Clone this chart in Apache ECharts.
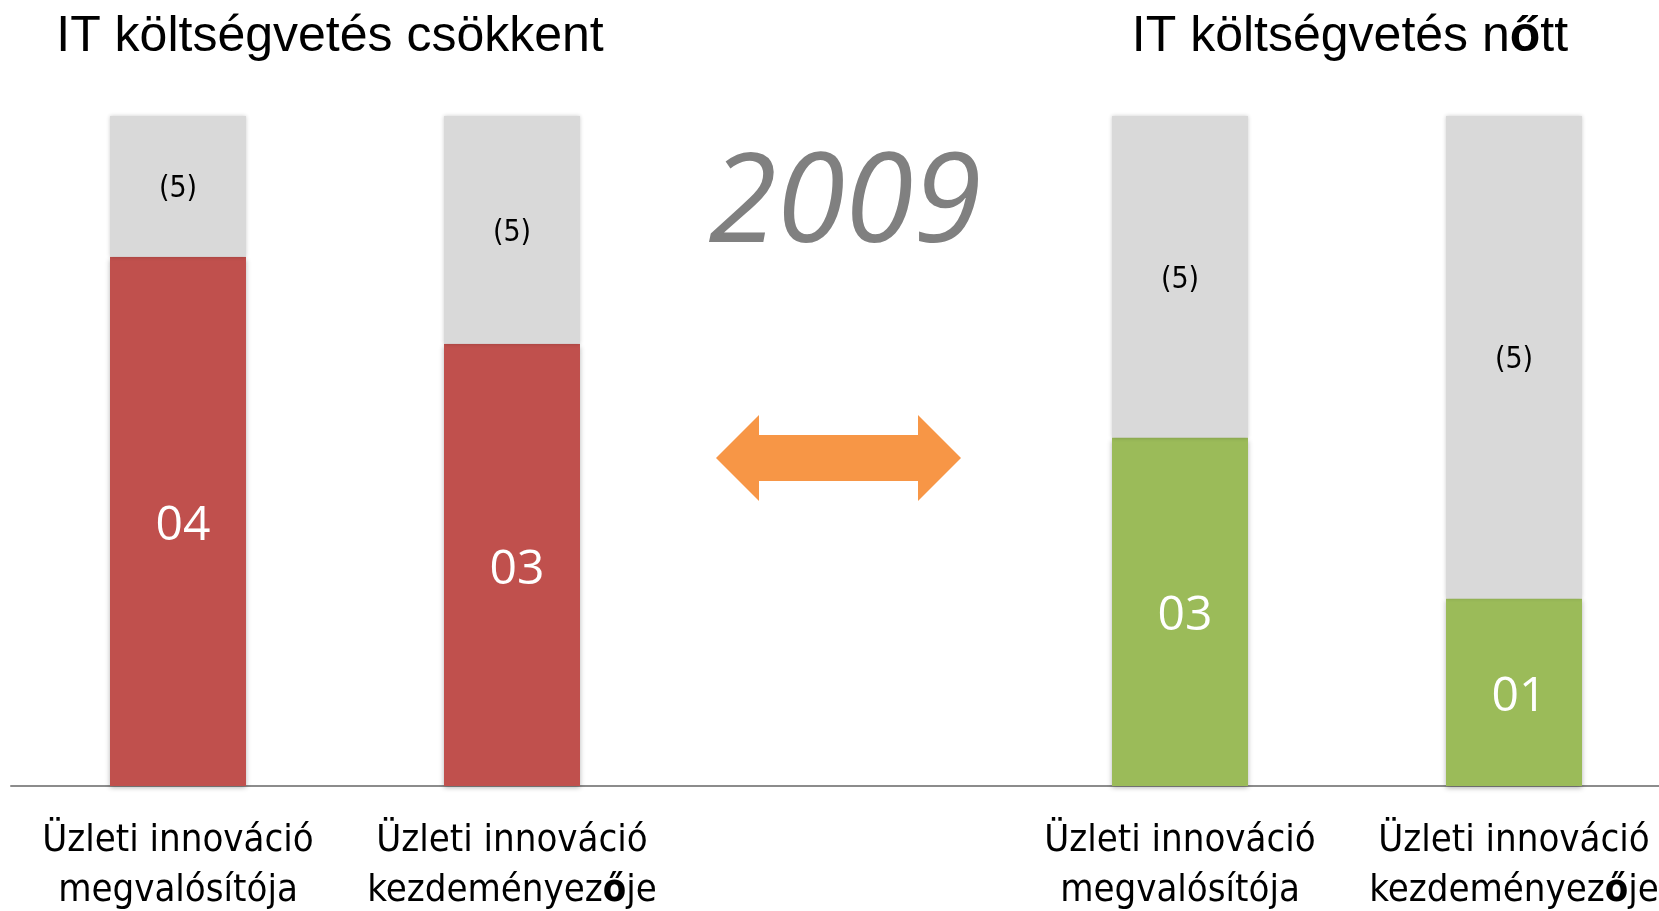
<!DOCTYPE html>
<html lang="hu">
<head>
  <meta charset="UTF-8">
  <title>IT költségvetés 2009</title>
  <script src="https://cdn.jsdelivr.net/npm/echarts@6/dist/echarts.min.js"></script>
  <style>
    * { margin: 0; padding: 0; }
    html, body { width: 100%; height: 100%; background: #fff; overflow: hidden; }
    #main { width: 1659px; height: 911px; }
  </style>
</head>
<body>
  <div id="main"></div>
  <script>
    // kategóriák (a középső üres hely a nyílnak és az évszámnak)
    var categories = ['Üzleti innováció\nmegvalósítója', 'Üzleti innováció\nkezdeményezője', '',
                      'Üzleti innováció\nmegvalósítója', 'Üzleti innováció\nkezdeményezője'];
    var decreased = [79, 66, '-', '-', '-'];   // IT költségvetés csökkent (%)
    var increased = ['-', '-', '-', 52, 28];   // IT költségvetés nőtt (%)
    var rest = [21, 34, '-', 48, 72];          // többi (szürke)
    var rankLabels = ['04', '03', '', '03', '01'];
    var restLabels = ['(5)', '(5)', '', '(5)', '(5)'];
    var yearText = '2009';

    var narrow = "'DejaVu Sans Condensed', 'DejaVu Sans', sans-serif";
    var barShadow = { shadowBlur: 5, shadowOffsetY: 2, shadowColor: 'rgba(0,0,0,0.3)' };

    var myChart = echarts.init(document.getElementById('main'));

    function rankLabel(p) { return rankLabels[p.dataIndex]; }

    var option = {
      animation: false,
      grid: { left: 11, top: 116, width: 1670, height: 670, containLabel: false, outerBoundsMode: 'none' },
      xAxis: {
        type: 'category',
        data: categories,
        axisTick: { show: false },
        axisLine: { lineStyle: { color: '#8c8c8c', width: 2 } },
        axisLabel: {
          margin: 30,
          color: '#000',
          fontFamily: narrow,
          fontSize: 38,
          lineHeight: 50,
          interval: 0,
          formatter: function (v) { return v.replace(/ő/g, '{b|ő}'); },
          rich: { b: { fontFamily: narrow, fontSize: 38, lineHeight: 50, fontWeight: 'bold', color: '#000' } }
        }
      },
      yAxis: { type: 'value', min: 0, max: 100, show: false },
      series: [
        {
          name: 'csökkent', type: 'bar', stack: 'a', barWidth: 136,
          data: decreased,
          itemStyle: Object.assign({ color: '#C0504D' }, barShadow),
          label: { show: true, position: 'inside', offset: [5, 5], formatter: rankLabel,
                   color: '#fff', fontFamily: 'Open Sans', fontSize: 48 }
        },
        {
          name: 'nőtt', type: 'bar', stack: 'a', barWidth: 136,
          data: increased,
          itemStyle: Object.assign({ color: '#9BBB59' }, barShadow),
          label: { show: true, position: 'inside', offset: [5, 5], formatter: rankLabel,
                   color: '#fff', fontFamily: 'Open Sans', fontSize: 48 }
        },
        {
          name: 'többi', type: 'bar', stack: 'a', barWidth: 136,
          data: rest,
          itemStyle: { color: '#D9D9D9', shadowBlur: 4, shadowColor: 'rgba(0,0,0,0.2)' },
          label: { show: true, position: 'inside', offset: [0, 3],
                   formatter: function (p) { return restLabels[p.dataIndex]; },
                   color: '#000', fontFamily: narrow, fontSize: 30 }
        }
      ],
      graphic: [
        { type: 'text', x: 330, y: 37,
          style: { text: 'IT költségvetés csökkent', fill: '#000', align: 'center', verticalAlign: 'middle',
                   font: "50px 'Liberation Sans', sans-serif" } },
        { type: 'text', x: 1350, y: 37,
          style: { text: 'IT költségvetés n{b|ő}tt', fill: '#000', align: 'center', verticalAlign: 'middle',
                   font: "50px 'Liberation Sans', sans-serif",
                   rich: { b: { fontSize: 50, fontFamily: 'Liberation Sans', fontWeight: 'bold', fill: '#000' } } } },
        { type: 'text', x: 845, y: 207,
          style: { text: yearText, fill: '#808080', align: 'center', verticalAlign: 'middle',
                   font: "italic 124px 'Open Sans', sans-serif" } },
        { type: 'polygon',
          shape: { points: [[716, 458], [759, 415], [759, 435], [918, 435], [918, 415], [961, 458],
                            [918, 501], [918, 481], [759, 481], [759, 501]] },
          style: { fill: '#F79646' } }
      ]
    };
    myChart.setOption(option);
  </script>
</body>
</html>
